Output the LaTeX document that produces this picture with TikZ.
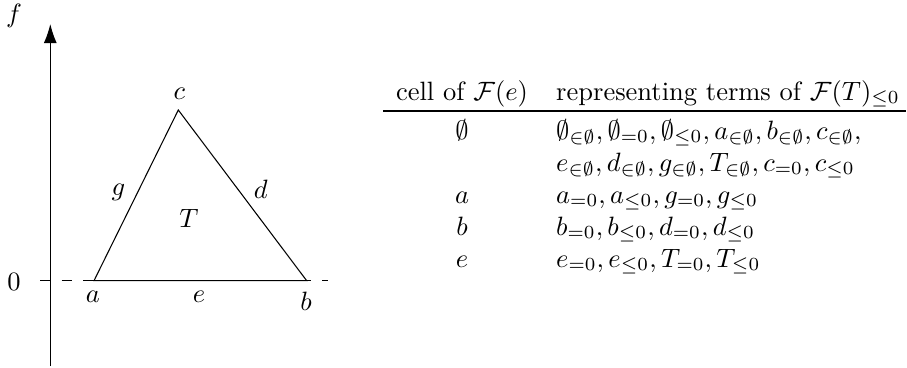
\documentclass[tikz,border=0pt]{standalone}
\usepackage{amssymb}
\usetikzlibrary{arrows.meta}
\begin{document}
\begin{tikzpicture}[x=0.3774pt,y=-0.3774pt,
  lbl/.style={inner sep=0pt},
  cellA/.style={anchor=base,inner sep=0pt},
  cellB/.style={anchor=base west,inner sep=0pt},
  dashline/.style={dash pattern=on 3.8pt off 4.4pt}]
\useasboundingbox (0,0) rectangle (907,367);
% axis
\coordinate (axb) at (50.3,366);
\coordinate (axt) at (50.3,24);
\draw[-{Latex[length=7.2pt,width=4.9pt]}] (axb) -- (axt);
\node[lbl] (f) at (14,16) {$f$};
\node[lbl] (zero) at (14,282) {$0$};
% dashed level line
\coordinate (dl) at (40,280.7);
\coordinate (dr) at (328,280.7);
\draw[dashline] (dl) -- (dr);
% triangle
\coordinate (A) at (94,280.7);
\coordinate (B) at (306.7,280.7);
\coordinate (C) at (178.3,110);
\draw (A) -- (B) -- (C) -- cycle;
\node[lbl] (la) at (93,297) {$a$};
\node[lbl] (lb) at (306,301.7) {$b$};
\node[lbl] (lc) at (179.3,93.3) {$c$};
\node[lbl] (le) at (199,297) {$e$};
\node[lbl] (lg) at (118.3,192.3) {$g$};
\node[lbl] (ld) at (260.7,189) {$d$};
\node[lbl] (lT) at (189,218.3) {$T$};
% table
\node[cellA] (h1) at (462,100) {cell of $\mathcal{F}(e)$};
\node[cellB] (h2) at (555.7,100) {representing terms of $\mathcal{F}(T)_{\leq 0}$};
\coordinate (rl) at (383,110.7);
\coordinate (rr) at (906,110.7);
\draw[line width=0.6pt] (rl) -- (rr);
\node[cellA] (r1a) at (462,139) {$\emptyset$};
\node[cellB] (r1b) at (555.7,139) {$\emptyset_{\in\emptyset}, \emptyset_{=0}, \emptyset_{\leq 0}, a_{\in\emptyset}, b_{\in\emptyset}, c_{\in\emptyset},$};
\node[cellB] (r1c) at (555.7,171) {$e_{\in\emptyset}, d_{\in\emptyset}, g_{\in\emptyset}, T_{\in\emptyset}, c_{=0}, c_{\leq 0}$};
\node[cellA] (r2a) at (462,203) {$a$};
\node[cellB] (r2b) at (555.7,203) {$a_{=0}, a_{\leq 0}, g_{=0}, g_{\leq 0}$};
\node[cellA] (r3a) at (462,235) {$b$};
\node[cellB] (r3b) at (555.7,235) {$b_{=0}, b_{\leq 0}, d_{=0}, d_{\leq 0}$};
\node[cellA] (r4a) at (462,267) {$e$};
\node[cellB] (r4b) at (555.7,267) {$e_{=0}, e_{\leq 0}, T_{=0}, T_{\leq 0}$};
\end{tikzpicture}
\end{document}
